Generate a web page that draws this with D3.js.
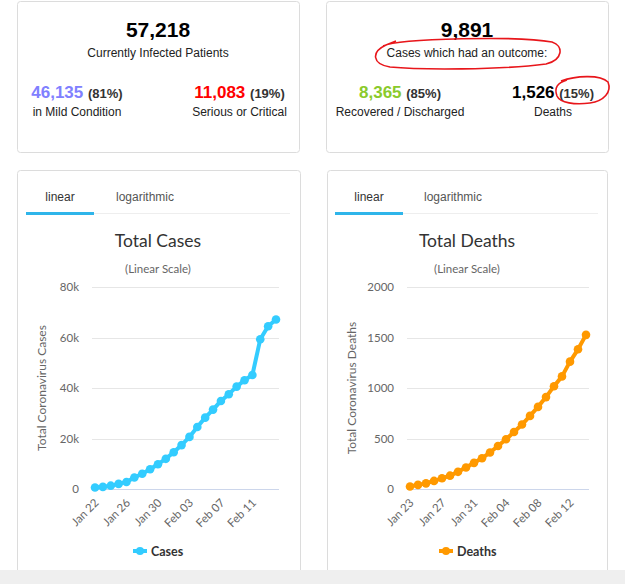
<!DOCTYPE html>
<html><head><meta charset="utf-8">
<script src="https://cdn.jsdelivr.net/npm/d3@7"></script>
<style>
html,body{margin:0;padding:0;background:#fff;}
svg{display:block;}
</style></head>
<body>
<svg id="c" width="625" height="584"></svg>
<script>
// ---- data ----
const caseDates = ["2020-01-22","2020-01-23","2020-01-24","2020-01-25","2020-01-26","2020-01-27","2020-01-28","2020-01-29","2020-01-30","2020-01-31","2020-02-01","2020-02-02","2020-02-03","2020-02-04","2020-02-05","2020-02-06","2020-02-07","2020-02-08","2020-02-09","2020-02-10","2020-02-11","2020-02-12","2020-02-13","2020-02-14"];
const caseValues = [580,845,1317,2015,2800,4581,6058,7813,9823,11950,14553,17391,20630,24545,28266,31439,34876,37552,40553,43099,45134,59287,64438,67100];
const deathDates = ["2020-01-23","2020-01-24","2020-01-25","2020-01-26","2020-01-27","2020-01-28","2020-01-29","2020-01-30","2020-01-31","2020-02-01","2020-02-02","2020-02-03","2020-02-04","2020-02-05","2020-02-06","2020-02-07","2020-02-08","2020-02-09","2020-02-10","2020-02-11","2020-02-12","2020-02-13","2020-02-14"];
const deathValues = [25,41,56,80,106,132,170,213,259,304,362,426,492,565,638,724,813,910,1018,1115,1261,1383,1526];
const caseTickLabels = ["Jan 22","Jan 26","Jan 30","Feb 03","Feb 07","Feb 11"];
const deathTickLabels = ["Jan 23","Jan 27","Jan 31","Feb 04","Feb 08","Feb 12"];
const caseYTicks = [0,20000,40000,60000,80000];
const deathYTicks = [0,500,1000,1500,2000];
const summaryLeft = {total:"57,218", label:"Currently Infected Patients",
  a:{n:"46,135", p:"(81%)", l:"in Mild Condition"}, b:{n:"11,083", p:"(19%)", l:"Serious or Critical"}};
const summaryRight = {total:"9,891", label:"Cases which had an outcome:",
  a:{n:"8,365", p:"(85%)", l:"Recovered / Discharged"}, b:{n:"1,526", p:"(15%)", l:"Deaths"}};

const svg = d3.select("#c");
const AR = "'Liberation Sans', Arial, sans-serif";
const CF = "Lato, 'Liberation Sans', sans-serif";
const parse = d3.timeParse("%Y-%m-%d");
const fmtTick = d3.timeFormat("%b %d");

function card(x,y,w,h){
  svg.append("rect").attr("x",x+0.5).attr("y",y+0.5).attr("width",w).attr("height",h)
    .attr("rx",3).attr("fill","#fff").attr("stroke","#dcdcdc");
}
card(17,1,282,151);
card(326,1,282,151);
card(17,170,283,420);
card(327,170,280,420);

function summary(cx, s, ax, bx, colA, colB){
  svg.append("text").attr("x",cx).attr("y",37).attr("text-anchor","middle")
    .attr("font-family",AR).attr("font-weight","bold").attr("font-size",21).attr("fill","#000").text(s.total);
  svg.append("text").attr("x",cx).attr("y",57).attr("text-anchor","middle")
    .attr("font-family",AR).attr("font-size",12).attr("fill","#222").text(s.label);
  [[ax,s.a,colA],[bx,s.b,colB]].forEach(([x,d,c])=>{
    const t = svg.append("text").attr("x",x).attr("y",98).attr("text-anchor","middle").attr("font-family",AR);
    t.append("tspan").attr("font-weight","bold").attr("font-size",17).attr("fill",c).text(d.n+" ");
    t.append("tspan").attr("font-weight","bold").attr("font-size",13).attr("fill","#333").text(d.p);
    svg.append("text").attr("x",x).attr("y",116).attr("text-anchor","middle")
      .attr("font-family",AR).attr("font-size",12).attr("fill","#222").text(d.l);
  });
}
summary(158, summaryLeft, 77, 239.5, "#8080ff", "#ff0000");
summary(467, summaryRight, 400, 553, "#8aca2b", "#000");

// red hand annotations
svg.append("path").attr("d","M383,46 C400,38 520,36 552,42 C564,46 563,60 546,64 C500,70 420,70 390,67 C372,64 371,52 386,45 L396,41")
  .attr("fill","none").attr("stroke","#e8161b").attr("stroke-width",1.6);
svg.append("path").attr("d","M561,81 C575,76 600,74 608,82 C612,92 604,101 590,103 C575,105 560,103 557,96 C554,88 557,83 567,80")
  .attr("fill","none").attr("stroke","#e8161b").attr("stroke-width",1.6);

function chart(o){
  const g = svg.append("g");
  g.append("line").attr("x1",o.tabL).attr("x2",o.tabR).attr("y1",213.5).attr("y2",213.5).attr("stroke","#eee");
  g.append("rect").attr("x",o.tabL).attr("y",212).attr("width",o.tabW).attr("height",3).attr("fill","#2fb5ea");
  g.append("text").attr("x",o.tabL+o.tabW/2).attr("y",201).attr("text-anchor","middle")
    .attr("font-family",AR).attr("font-size",12).attr("fill","#333").text("linear");
  g.append("text").attr("x",o.logX).attr("y",201).attr("text-anchor","middle")
    .attr("font-family",AR).attr("font-size",12).attr("fill","#555").text("logarithmic");
  g.append("text").attr("x",o.cx).attr("y",247).attr("text-anchor","middle")
    .attr("font-family",CF).attr("font-size",17.5).attr("fill","#333").text(o.title);
  g.append("text").attr("x",o.cx).attr("y",273).attr("text-anchor","middle")
    .attr("font-family",CF).attr("font-size",11.5).attr("fill","#666").text("(Linear Scale)");

  const dates = o.dates.map(parse);
  const x = d3.scaleTime().domain(d3.extent(dates)).range([o.pl+3,o.pr-3]);
  const y = d3.scaleLinear().domain([0,o.yTicks[o.yTicks.length-1]]).range([489,287]);

  g.append("g").selectAll("line").data(o.yTicks.slice(1)).join("line")
    .attr("x1",o.pl).attr("x2",o.pr).attr("y1",d=>Math.round(y(d))+0.5).attr("y2",d=>Math.round(y(d))+0.5)
    .attr("stroke","#e6e6e6");
  const ya = g.append("g").attr("transform",`translate(${o.pl},0)`)
    .call(d3.axisLeft(y).tickValues(o.yTicks).tickSize(0).tickPadding(13).tickFormat(o.yFmt));
  ya.select(".domain").remove();
  ya.selectAll("text").attr("font-family",CF).attr("font-size",11.5).attr("fill","#666");
  const tickDates = o.tickLabels.map(l=>dates.find(d=>fmtTick(d)===l));
  const xa = g.append("g").attr("transform","translate(0,489.5)")
    .call(d3.axisBottom(x).tickValues(tickDates).tickSize(0).tickFormat(fmtTick));
  xa.select(".domain").attr("stroke","#ccd6eb").attr("d",`M${o.pl},0H${o.pr}`);
  xa.selectAll("text").attr("font-family",CF).attr("font-size",11.5).attr("fill","#666")
    .attr("text-anchor","end").attr("dy",0).attr("y",0)
    .attr("transform","translate(4,14) rotate(-45)");
  g.append("text").attr("transform",`translate(${o.ytx},388) rotate(-90)`).attr("text-anchor","middle")
    .attr("font-family",CF).attr("font-size",12).attr("fill","#666").text(o.yTitle);

  const pts = dates.map((d,i)=>[x(d),y(o.values[i])]);
  g.append("path").attr("d",d3.line()(pts)).attr("fill","none").attr("stroke",o.color)
    .attr("stroke-width",4).attr("stroke-linejoin","round");
  g.append("g").selectAll("circle").data(pts).join("circle")
    .attr("cx",d=>d[0]).attr("cy",d=>d[1]).attr("r",4.3).attr("fill",o.color);

  const lg = g.append("g").attr("transform",`translate(${o.legX},551)`);
  lg.append("line").attr("x1",0).attr("x2",14).attr("stroke",o.color).attr("stroke-width",4);
  lg.append("circle").attr("cx",7).attr("r",4).attr("fill",o.color);
  lg.append("text").attr("x",18).attr("y",4.5).attr("font-family",CF).attr("font-weight","bold")
    .attr("font-size",12.5).attr("fill","#333").text(o.name);
}

chart({dates:caseDates, values:caseValues, tickLabels:caseTickLabels, yTicks:caseYTicks,
  yFmt:d=>d===0?"0":(d/1000)+"k", pl:92, pr:279, cx:158, title:"Total Cases",
  yTitle:"Total Coronavirus Cases", ytx:46, color:"#33ccff", name:"Cases",
  tabL:26, tabR:290, tabW:68, logX:145, legX:133});
chart({dates:deathDates, values:deathValues, tickLabels:deathTickLabels, yTicks:deathYTicks,
  yFmt:d=>String(d), pl:407, pr:589, cx:467, title:"Total Deaths",
  yTitle:"Total Coronavirus Deaths", ytx:356, color:"#ff9900", name:"Deaths",
  tabL:335, tabR:598, tabW:68, logX:453, legX:439});

svg.append("rect").attr("x",0).attr("y",570).attr("width",625).attr("height",14).attr("fill","#efefef");
</script>
</body></html>
